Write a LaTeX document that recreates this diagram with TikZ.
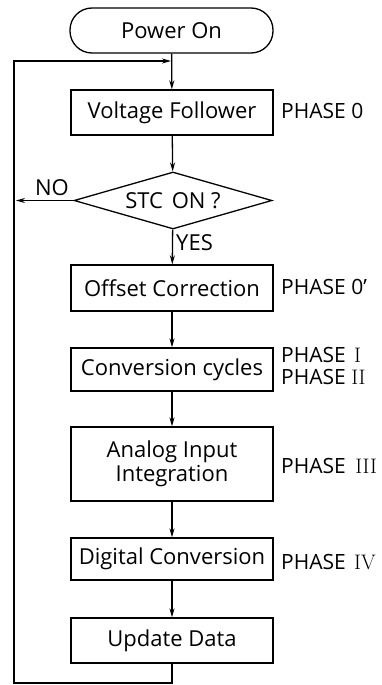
\documentclass[tikz,border=0pt]{standalone}
\usepackage{fontspec}
\setsansfont{Open Sans}
\usetikzlibrary{shapes.geometric,arrows.meta}
\begin{document}
\begin{tikzpicture}[x=1pt,y=-1pt,
  every node/.style={font=\sffamily\fontsize{22}{26}\selectfont},
  arr/.style={line width=1.3pt, -{Stealth[length=9pt,width=5pt]}},
  box/.style={draw, line width=1.3pt, minimum width=202pt, inner sep=0pt, align=center},
  term/.style={draw, line width=1.3pt, minimum width=203pt, minimum height=45pt, rounded corners=22pt, inner sep=0pt},
  dec/.style={draw, line width=1.3pt, diamond, aspect=3.47, minimum width=198pt, minimum height=57pt, inner sep=0pt},
  phase/.style={anchor=west, inner sep=0pt, font=\sffamily\fontsize{21}{25}\selectfont},
  lab/.style={inner sep=0pt}]
\useasboundingbox (0,0) rectangle (381,685);
\node[term] (po) at (171.5,30.5) {Power On};
\node[box, minimum height=45pt] (vf) at (172,112.5) {Voltage Follower};
\node[dec] (dc) at (173,200.5) {STC\hspace{0.4em}ON ?};
\node[box, minimum height=46pt] (oc) at (172,288) {Offset Correction};
\node[box, minimum height=43pt] (cc) at (172,369.5) {Conversion cycles};
\node[box, minimum height=74pt] (ai) at (172,464) {Analog Input\\[-2pt]Integration};
\node[box, minimum height=42pt] (dg) at (172,559) {Digital Conversion};
\node[box, minimum height=45pt] (ud) at (172,640.5) {Update Data};

\node[phase] (p0) at (281,110.5) {PHASE 0};
\node[phase] (p0p) at (281,287) {PHASE 0’};
\node[phase] (p1) at (281,355) {PHASE\hspace{0.4em}{\rmfamily I}};
\node[phase] (p2) at (281,377) {PHASE {\rmfamily II}};
\node[phase] (p3) at (281,466) {PHASE\hspace{0.45em}{\rmfamily III}};
\node[phase] (p4) at (281,562) {PHASE\hspace{0.4em}{\rmfamily IV}};

\node[lab] (no) at (52,188) {NO};
\node[lab, anchor=west] (yes) at (176,243) {YES};

\coordinate (jn) at (171,61);
\coordinate (lb) at (14,683);
\coordinate (noend) at (16,200.5);

\draw[arr] (po) -- (vf);
\draw[arr] (vf) -- (dc);
\draw[arr] (dc) -- (oc);
\draw[arr] (oc) -- (cc);
\draw[arr] (cc) -- (ai);
\draw[arr] (ai) -- (dg);
\draw[arr] (dg) -- (ud);
\draw[arr] (dc.west) -- (noend);
\draw[arr] (ud.south) |- (lb) |- (jn);
\end{tikzpicture}
\end{document}
